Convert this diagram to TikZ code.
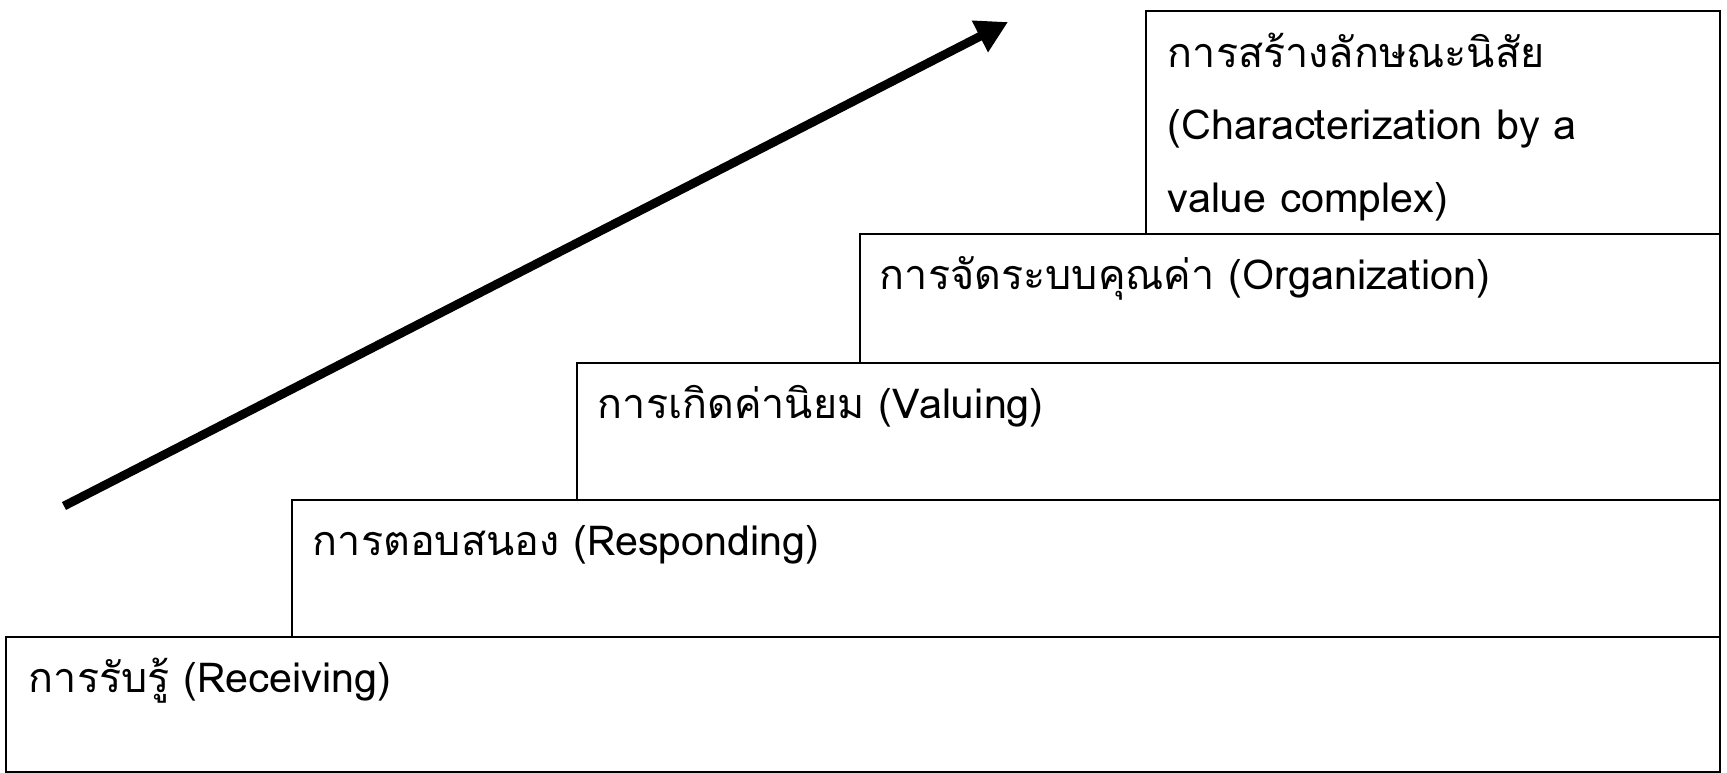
\documentclass[tikz,border=0pt]{standalone}
\usepackage{fontspec}
\newfontfamily\thaifont[Script=Thai]{Loma}
\usetikzlibrary{arrows.meta,positioning}

\begin{document}
\begin{tikzpicture}[
  x=0.02cm, y=-0.02cm,
  font=\thaifont\fontsize{23.5}{41}\selectfont,
  level/.style 2 args={draw, line width=1.4pt, anchor=north east, inner sep=0pt,
    minimum width=#1*0.02cm, minimum height=#2*0.02cm},
  caption/.style={anchor=base west, inner sep=0pt, align=left},
  climb/.style={line width=5pt, -{Triangle[length=18pt, width=19pt]}}
]
  \useasboundingbox (0,0) rectangle (1727,772);

  \node[level={1714}{135}] (receiving) at (1721,636) {};
  \node[level={1428}{137}] (responding) at (1721,499) {};
  \node[level={1143}{137}] (valuing) at (1721,362) {};
  \node[level={860}{129}] (organization) at (1721,233) {};
  \node[level={574}{223}] (character) at (1721,10) {};

  \node[caption] (receivingtext) at ([shift={(24,56)}]receiving.north west) {การรับรู้ (Receiving)};
  \node[caption] (respondingtext) at ([shift={(22,56)}]responding.north west) {การตอบสนอง (Responding)};
  \node[caption] (valuingtext) at ([shift={(22,56)}]valuing.north west) {การเกิดค่านิยม (Valuing)};
  \node[caption] (organizationtext) at ([shift={(21,56)}]organization.north west) {การจัดระบบคุณค่า (Organization)};
  % base of a multi-line node is its last line
  \node[caption] (charactertext) at ([shift={(23,202)}]character.north west)
    {การสร้างลักษณะนิสัย\\(Characterization by a\\value complex)};

  \coordinate (tail) at (64,506);
  \coordinate (head) at (1008,22);
  \draw[climb] (tail) -- (head);
\end{tikzpicture}
\end{document}
